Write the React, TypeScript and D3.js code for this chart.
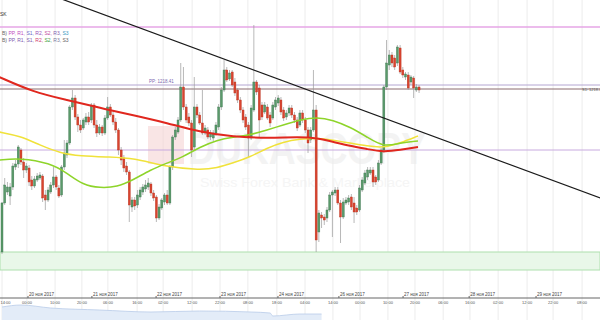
import React from 'react';
import * as d3 from 'd3';

// OHLC: [open, high, low, close]
const candles: [number, number, number, number][] = [
  [1201.8, 1206.8, 1201.6, 1206.7], [1206.7, 1209.2, 1206.5, 1208.5], [1207.8, 1208.8, 1207.5, 1208.3], [1207.4, 1208.7, 1206.5, 1208.3],
  [1208.3, 1210.7, 1208.0, 1210.4], [1210.3, 1211.0, 1210.0, 1210.6], [1210.6, 1212.5, 1210.2, 1212.3], [1212.0, 1212.2, 1210.5, 1210.8],
  [1210.8, 1211.2, 1209.2, 1210.0], [1210.0, 1210.7, 1209.7, 1210.4], [1210.2, 1210.5, 1208.4, 1208.8], [1209.0, 1209.4, 1208.0, 1208.4],
  [1208.4, 1209.4, 1208.2, 1209.1], [1209.0, 1209.7, 1208.8, 1209.4], [1209.2, 1209.8, 1209.0, 1209.5], [1209.4, 1209.6, 1206.8, 1207.2],
  [1207.5, 1208.0, 1206.0, 1207.0], [1207.0, 1208.3, 1206.8, 1208.0], [1207.8, 1208.8, 1207.6, 1208.5], [1208.5, 1210.3, 1208.2, 1209.3],
  [1209.3, 1209.5, 1208.0, 1208.3], [1208.2, 1208.5, 1207.2, 1207.4], [1207.5, 1210.5, 1207.3, 1210.3], [1210.3, 1213.0, 1210.0, 1211.7],
  [1211.5, 1213.0, 1211.2, 1212.7], [1212.7, 1216.5, 1212.5, 1216.3], [1216.3, 1218.0, 1216.0, 1217.2], [1217.2, 1217.5, 1215.0, 1215.3],
  [1215.3, 1215.6, 1213.8, 1214.5], [1214.5, 1215.0, 1213.7, 1214.0], [1214.2, 1215.2, 1214.0, 1215.0], [1214.8, 1215.7, 1214.5, 1215.3],
  [1215.3, 1215.8, 1214.5, 1214.8], [1215.0, 1216.7, 1214.7, 1216.5], [1216.5, 1216.7, 1214.2, 1214.5], [1214.5, 1215.0, 1213.3, 1213.7],
  [1213.7, 1214.6, 1213.5, 1214.3], [1214.3, 1214.5, 1213.4, 1213.7], [1213.7, 1215.5, 1213.5, 1215.2], [1215.2, 1217.3, 1215.0, 1216.3],
  [1216.3, 1216.6, 1215.3, 1215.5], [1215.5, 1215.8, 1214.5, 1214.8], [1214.8, 1215.2, 1213.7, 1214.0], [1214.0, 1214.2, 1211.5, 1212.0],
  [1212.0, 1212.3, 1210.5, 1211.0], [1211.2, 1211.5, 1209.8, 1210.2], [1210.4, 1210.8, 1209.5, 1209.8], [1209.8, 1210.0, 1204.8, 1206.5],
  [1206.3, 1207.3, 1205.8, 1207.0], [1207.0, 1207.3, 1206.0, 1206.4], [1206.5, 1208.0, 1206.2, 1207.5], [1207.3, 1208.3, 1207.0, 1208.0],
  [1207.8, 1208.6, 1207.5, 1208.3], [1208.1, 1209.0, 1207.8, 1208.5], [1208.3, 1209.2, 1208.0, 1208.7], [1208.6, 1208.8, 1207.4, 1207.7],
  [1207.7, 1208.0, 1206.9, 1207.2], [1207.3, 1207.5, 1204.8, 1205.2], [1205.2, 1206.6, 1205.0, 1206.3], [1206.2, 1207.2, 1206.0, 1207.0],
  [1206.8, 1207.7, 1206.5, 1207.5], [1207.5, 1208.0, 1206.5, 1206.7], [1206.7, 1210.5, 1206.5, 1210.3], [1210.3, 1213.5, 1210.0, 1213.3],
  [1213.3, 1214.3, 1213.0, 1214.0], [1213.8, 1215.3, 1213.6, 1215.0], [1215.0, 1220.7, 1214.8, 1218.3], [1218.3, 1220.3, 1216.0, 1216.3],
  [1216.3, 1216.6, 1214.7, 1215.0], [1215.3, 1215.7, 1214.4, 1214.7], [1214.7, 1215.0, 1211.3, 1212.0], [1212.3, 1219.3, 1212.0, 1216.3],
  [1216.3, 1216.6, 1215.2, 1215.5], [1215.5, 1215.8, 1214.5, 1214.7], [1214.7, 1218.0, 1213.5, 1213.7], [1213.7, 1214.5, 1213.5, 1214.2],
  [1214.0, 1214.3, 1213.1, 1213.3], [1213.3, 1214.0, 1213.0, 1213.7], [1213.2, 1214.0, 1212.9, 1213.7], [1213.7, 1214.8, 1213.4, 1214.5],
  [1214.3, 1216.6, 1214.0, 1216.3], [1216.3, 1218.3, 1216.0, 1218.0], [1218.0, 1221.0, 1217.8, 1220.0], [1220.0, 1220.3, 1218.8, 1219.0],
  [1219.1, 1220.0, 1218.9, 1219.7], [1219.8, 1220.0, 1218.3, 1218.5], [1218.8, 1219.2, 1217.4, 1217.7], [1218.0, 1218.2, 1216.7, 1217.0],
  [1217.0, 1217.3, 1215.7, 1216.0], [1216.0, 1216.3, 1214.7, 1215.0], [1215.3, 1215.6, 1214.0, 1214.3], [1214.5, 1214.8, 1211.3, 1213.2],
  [1213.2, 1216.5, 1213.0, 1216.2], [1216.0, 1224.5, 1215.8, 1218.8], [1218.8, 1219.0, 1217.5, 1217.8], [1218.2, 1218.5, 1213.3, 1215.0],
  [1216.5, 1216.8, 1215.0, 1215.3], [1215.8, 1216.8, 1215.6, 1216.5], [1216.3, 1216.6, 1215.0, 1215.2], [1215.5, 1215.8, 1214.3, 1214.7],
  [1215.2, 1216.8, 1215.0, 1216.5], [1216.3, 1217.3, 1216.0, 1217.0], [1216.7, 1217.5, 1216.4, 1217.2], [1217.0, 1217.3, 1215.5, 1215.8],
  [1216.0, 1216.3, 1214.9, 1215.2], [1215.3, 1216.0, 1215.0, 1215.7], [1215.7, 1216.5, 1215.4, 1216.2], [1216.2, 1216.5, 1215.2, 1215.5],
  [1215.5, 1215.8, 1214.7, 1215.0], [1215.0, 1215.3, 1213.9, 1214.2], [1214.5, 1216.0, 1214.3, 1215.7], [1215.7, 1216.0, 1214.7, 1215.0],
  [1215.0, 1215.3, 1213.7, 1214.0], [1214.0, 1214.3, 1211.7, 1212.7], [1213.0, 1214.3, 1212.7, 1214.0], [1214.0, 1220.0, 1213.8, 1216.0],
  [1216.0, 1216.5, 1201.8, 1203.0], [1203.8, 1206.0, 1202.8, 1205.7], [1205.5, 1205.8, 1204.2, 1205.2], [1205.3, 1205.6, 1204.5, 1205.0],
  [1205.2, 1206.3, 1204.8, 1206.0], [1206.0, 1207.8, 1205.8, 1207.5], [1207.5, 1208.0, 1203.3, 1207.8], [1207.7, 1208.3, 1207.4, 1208.0],
  [1208.0, 1208.3, 1206.5, 1206.7], [1206.7, 1207.0, 1202.7, 1205.3], [1205.3, 1207.2, 1205.1, 1206.8], [1206.7, 1207.3, 1206.5, 1207.0],
  [1206.8, 1207.5, 1206.5, 1207.2], [1207.3, 1207.6, 1206.0, 1206.3], [1206.7, 1207.3, 1204.7, 1205.8], [1206.2, 1206.5, 1205.5, 1205.8],
  [1206.0, 1208.5, 1205.8, 1208.2], [1208.0, 1209.3, 1207.8, 1209.0], [1208.7, 1210.0, 1208.5, 1209.7], [1209.3, 1210.3, 1209.0, 1210.0],
  [1209.7, 1210.3, 1209.5, 1210.0], [1210.0, 1210.3, 1208.3, 1208.8], [1209.3, 1209.5, 1208.5, 1208.8], [1209.0, 1211.0, 1208.8, 1210.7],
  [1210.7, 1212.2, 1210.5, 1212.0], [1212.0, 1218.5, 1211.7, 1218.3], [1218.3, 1223.0, 1218.0, 1220.7], [1220.5, 1222.0, 1220.0, 1221.5],
  [1221.5, 1221.8, 1220.3, 1220.7], [1221.2, 1221.5, 1220.0, 1220.3], [1220.7, 1222.5, 1220.4, 1222.3], [1222.2, 1222.5, 1219.6, 1219.8],
  [1220.0, 1220.3, 1219.2, 1219.5], [1219.3, 1219.8, 1219.0, 1219.6], [1219.5, 1219.8, 1218.0, 1218.2], [1218.8, 1219.5, 1218.5, 1219.3],
  [1219.2, 1219.4, 1217.2, 1218.2], [1218.0, 1218.6, 1217.8, 1218.3], [1218.3, 1218.5, 1217.7, 1218.0],
];

// moving averages: [candle index, price]
const maRed: [number, number][] = [
  [-1, 1219.3], [11.5, 1217.8], [24, 1217.0], [36.2, 1216.2], [48.4, 1215.5], [61, 1214.7], [73, 1213.8],
  [85.4, 1213.3], [98, 1213.2], [110, 1213.3], [116.3, 1213.2], [122.5, 1212.8], [128.5, 1212.4],
  [134.8, 1212.1], [140.7, 1211.8], [147, 1212.0], [153.6, 1212.3],
];
const maYellow: [number, number][] = [
  [-1, 1213.8], [6.6, 1213.4], [14, 1212.5], [21.4, 1211.7], [28.8, 1211.4], [39.9, 1211.3], [48.4, 1211.2],
  [61, 1210.3], [73.1, 1210.0], [79.4, 1210.2], [85.3, 1210.7], [91.6, 1211.3], [97.9, 1212.2], [103.8, 1212.8],
  [110, 1213.1], [116.3, 1213.2], [122.2, 1213.0], [128.5, 1212.7], [134.8, 1212.4], [140.7, 1212.2],
  [147, 1212.7], [153.6, 1213.4],
];
const maGreen: [number, number][] = [
  [-1, 1211.0], [6.6, 1211.2], [17.7, 1210.7], [24, 1209.7], [29.9, 1208.5], [36.2, 1208.2], [42.5, 1208.3],
  [48.4, 1209.0], [54.7, 1210.0], [61, 1210.7], [66.8, 1211.3], [73.1, 1212.3], [79.4, 1213.0], [85.3, 1213.3],
  [91.6, 1213.5], [97.9, 1214.0], [103.8, 1214.5], [110, 1215.0], [116.3, 1215.3], [122.2, 1215.0],
  [128.5, 1214.3], [134.8, 1213.3], [140.7, 1212.3], [147, 1212.7], [153.6, 1212.9],
];

// pivot / support-resistance levels
const levelR = 1224.3;
const levelPP = 1218.5;
const levelS1 = 1218.1;
const levelS = 1212.0;
const zoneLow = 1200.0;
const zoneHigh = 1201.8;
const trend: [number, number][] = [[20, 1227.3], [221, 1207.2]];

// axis labels
const dateTicks: [number, string][] = [
  [9.6, '20 ноя 2017'], [33.2, '21 ноя 2017'], [56.9, '22 ноя 2017'], [80.5, '23 ноя 2017'], [101.9, '24 ноя 2017'],
  [124.4, '26 ноя 2017'], [148.1, '27 ноя 2017'], [172.5, '28 ноя 2017'], [197.2, '29 ноя 2017'],
];
const timeTicks: [number, string][] = [
  [0, '14:00'], [9.2, '00:00'], [19.6, '10:00'], [29.5, '20:00'], [39.1, '06:00'], [49.9, '16:00'], [59.5, '02:00'],
  [70.2, '12:00'], [80.5, '22:00'], [90.8, '08:00'], [101.5, '18:00'], [111.9, '04:00'], [122.2, '14:00'],
  [132.2, '00:00'], [142.5, '10:00'], [152.5, '20:00'], [162.9, '06:00'], [172.8, '16:00'], [183.2, '02:00'],
  [193.9, '12:00'], [203.5, '22:00'], [214.2, '08:00'],
];
const volume: [number, number][] = [
  [0, 14.4], [7, 16], [18, 13.6], [36, 12], [55, 10.4], [73, 11.2], [92, 10.4], [99, 9.6], [100, 7.2], [110, 8.8], [118, 8.8],
];

const legend1: [string, string][] = [
  ['B)', '#666'], ['PP,', '#c04cc0'], ['R1,', '#c04cc0'], ['S1,', '#6a6ac8'], ['R2,', '#9a50b8'], ['S2,', '#c04ca0'], ['R3,', '#8060b0'], ['S3', '#3a98c0'],
];
const legend2: [string, string][] = [
  ['B)', '#666'], ['PP,', '#8060b0'], ['R1,', '#8060b0'], ['S1,', '#8060b0'], ['R2,', '#d04070'], ['S2,', '#40a040'], ['R3,', '#7a7aa0'], ['S3', '#666']
];

export default function App() {
  const W = 600, H = 320;
  const x = d3.scaleLinear().domain([0, 221]).range([2, 600.5]);
  const y = d3.scaleLinear().domain([1227, 1199.8]).range([0, 272]);
  const vy = d3.scaleLinear().domain([0, 20]).range([325, 300]);
  const axisY = 298;
  const line = d3.line<[number, number]>().x(d => x(d[0])).y(d => y(d[1])).curve(d3.curveBasis);
  const vArea = d3.area<[number, number]>().x(d => x(d[0])).y0(H).y1(d => vy(d[1])).curve(d3.curveMonotoneX);
  const vLine = d3.line<[number, number]>().x(d => x(d[0])).y(d => vy(d[1])).curve(d3.curveMonotoneX);
  const font = 'Liberation Sans, Arial, sans-serif';
  const bw = 2.0;

  return (
    <svg width={W} height={H} style={{ position: 'absolute', left: 0, top: 0, background: '#fff' }} fontFamily={font}>
      <defs>
        <clipPath id="plot"><rect x={0} y={0} width={W} height={axisY} /></clipPath>
      </defs>
      <rect x={0} y={0} width={W} height={H} fill="#fff" />
      {/* vertical grid */}
      {timeTicks.map(([i], k) => (
        <line key={'vg' + k} x1={x(i)} x2={x(i)} y1={0} y2={H} stroke="#ececec" strokeWidth={1} />
      ))}
      {/* watermark */}
      <g opacity={0.6}>
        <rect x={148} y={126} width={36} height={38} fill="#f6d4d4" />
        <text x={188} y={164} fontSize={44} fontWeight="bold" fill="#ececec" textLength={238} lengthAdjust="spacingAndGlyphs">DUKASCOPY</text>
        <text x={200} y={187} fontSize={12} fill="#efefef" textLength={210} lengthAdjust="spacingAndGlyphs">Swiss Forex Bank &amp; Marketplace</text>
      </g>
      <g clipPath="url(#plot)">
        {/* support zone */}
        <rect x={0} y={y(zoneHigh)} width={W} height={y(zoneLow) - y(zoneHigh)} fill="#e9f7e9" stroke="#aee0ae" strokeWidth={1} />
        {/* levels */}
        <line x1={0} x2={W} y1={y(levelR)} y2={y(levelR)} stroke="#e6a6e6" strokeWidth={1.5} />
        <line x1={0} x2={W} y1={y(levelPP)} y2={y(levelPP)} stroke="#b4a6d2" strokeWidth={1} />
        <line x1={0} x2={W} y1={y(levelS1)} y2={y(levelS1)} stroke="#8a6a6e" strokeWidth={1} />
        <line x1={0} x2={W} y1={y(levelS)} y2={y(levelS)} stroke="#c8aadf" strokeWidth={1} />
        {/* candles */}
        {candles.map((c, i) => {
          const [o, h, l, cl] = c;
          const up = cl >= o;
          const cx = x(i);
          const top = y(Math.max(o, cl));
          const bh = Math.max(1, y(Math.min(o, cl)) - top);
          return (
            <g key={'c' + i}>
              <line x1={cx} x2={cx} y1={y(h)} y2={y(l)} stroke="#9a9a9a" strokeWidth={0.7} />
              <rect x={cx - bw / 2} y={top} width={bw} height={bh}
                fill={up ? '#5a9a6a' : '#d9442f'} stroke={up ? '#3c7650' : '#b8321f'} strokeWidth={0.4} />
            </g>
          );
        })}
        {/* moving averages */}
        <path d={line(maYellow) || ''} fill="none" stroke="#f0e23a" strokeWidth={1.5} />
        <path d={line(maGreen) || ''} fill="none" stroke="#8ed42a" strokeWidth={1.5} />
        <path d={line(maRed) || ''} fill="none" stroke="#e0271e" strokeWidth={2} />
        {/* trend line */}
        <line x1={x(trend[0][0])} y1={y(trend[0][1])} x2={x(trend[1][0])} y2={y(trend[1][1])} stroke="#1a1a1a" strokeWidth={1.2} />
      </g>
      {/* level labels */}
      <text x={149} y={y(levelPP) - 2} fontSize={4.5} fill="#7a6ab0">PP: 1218.41</text>
      <text x={582} y={y(levelS1) + 1.5} fontSize={4} fill="#555">S1: 1218.0</text>
      {/* top-left labels */}
      <text x={0} y={16} fontSize={5} fill="#333">SK</text>
      <text x={2} y={35} fontSize={5}>
        {legend1.map(([t, c], k) => <tspan key={k} fill={c}>{t + ' '}</tspan>)}
      </text>
      <text x={2} y={42} fontSize={5}>
        {legend2.map(([t, c], k) => <tspan key={k} fill={c}>{t + ' '}</tspan>)}
      </text>
      {/* axis */}
      <line x1={0} x2={W} y1={axisY} y2={axisY} stroke="#666" strokeWidth={1} />
      {dateTicks.map(([i, t], k) => (
        <g key={'d' + k}>
          <line x1={x(i)} x2={x(i)} y1={axisY - 2} y2={axisY} stroke="#666" />
          <text x={x(i) + 1} y={axisY - 2} fontSize={4.5} fill="#444">{t}</text>
        </g>
      ))}
      {timeTicks.map(([i, t], k) => (
        <text key={'t' + k} x={Math.max(x(i), 5.5)} y={axisY + 6} fontSize={4} fill="#555" textAnchor="middle">{t}</text>
      ))}
      {/* volume panel */}
      <path d={vArea(volume) || ''} fill="#e3ecf8" />
      <path d={vLine(volume) || ''} fill="none" stroke="#b9cce8" strokeWidth={0.8} />
    </svg>
  );
}
